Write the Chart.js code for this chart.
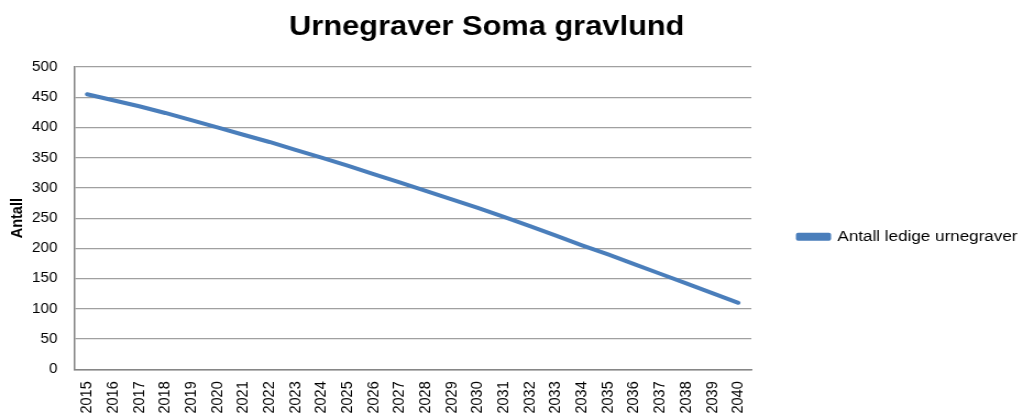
<!DOCTYPE html>
<html>
<head>
<meta charset="utf-8">
<script src="https://cdn.jsdelivr.net/npm/chart.js@4.4.1/dist/chart.umd.min.js"></script>
<style>
html,body{margin:0;padding:0;background:#fff;overflow:hidden;width:1018px;height:414px;}
#wrap{position:absolute;left:-55px;top:0;width:985px;height:414px;transform:scaleX(1.1);transform-origin:0 0;}
</style>
</head>
<body>
<div id="wrap"><canvas id="c"></canvas></div>
<script>
const titleText = 'Urnegraver Soma gravlund';
const yAxisTitle = 'Antall';
const seriesLabel = 'Antall ledige urnegraver';
const years = ['2015','2016','2017','2018','2019','2020','2021','2022','2023','2024','2025','2026','2027',
               '2028','2029','2030','2031','2032','2033','2034','2035','2036','2037','2038','2039','2040'];
const ledigeUrnegraver = [455,445,435,424,412,400,388,376,363,350,337,323,309,
                          295,281,267,252,237,221,205,190,174,158,142,126,110];
const yMin = 0, yMax = 500, yStep = 50;

const FONT = 'Liberation Sans, Arial, sans-serif';

new Chart(document.getElementById('c'), {
  type: 'line',
  data: {
    labels: years,
    datasets: [{
      label: seriesLabel,
      data: ledigeUrnegraver,
      borderColor: '#4a7ebb',
      backgroundColor: '#4a7ebb',
      borderWidth: 4,
      borderCapStyle: 'round',
      borderJoinStyle: 'round',
      pointRadius: 0,
      pointHoverRadius: 0,
      tension: 0,
      fill: false
    }]
  },
  options: {
    responsive: true,
    maintainAspectRatio: false,
    animation: false,
    layout: { padding: { left: 0, right: 0, top: 0, bottom: 0 } },
    plugins: {
      tooltip: { enabled: false },
      title: {
        display: true,
        text: titleText,
        color: '#000',
        font: { family: FONT, size: 28, weight: 'bold' },
        padding: { top: 10.5, bottom: 22.9 }
      },
      legend: {
        display: true,
        position: 'right',
        fullSize: false,
        maxWidth: 320,
        title: { display: true, text: '', padding: { top: 10, bottom: 9 }, font: { family: FONT, size: 15 } },
        labels: {
          color: '#000',
          font: { family: FONT, size: 15.5 },
          boxWidth: 28,
          boxHeight: 4,
          padding: 42.5
        }
      }
    },
    scales: {
      x: {
        type: 'category',
        offset: true,
        grid: { display: false, drawTicks: false },
        border: { display: true, color: '#868686', width: 1.5 },
        ticks: {
          color: '#000',
          font: { family: FONT, size: 14.5 },
          minRotation: 90,
          maxRotation: 90,
          autoSkip: false,
          padding: 12
        },
        afterFit: (s) => { s.height = 44.7; }
      },
      y: {
        min: yMin,
        max: yMax,
        grid: { color: '#a0a0a0', lineWidth: 1.3, drawTicks: false },
        border: { display: true, color: '#868686', width: 1.5 },
        ticks: {
          stepSize: yStep,
          color: '#000',
          font: { family: FONT, size: 14 },
          padding: 15
        },
        title: {
          display: true,
          text: yAxisTitle,
          color: '#000',
          font: { family: FONT, size: 14.5, weight: 'bold' },
          padding: { top: 57, bottom: 0 }
        },
        afterFit: (s) => { s.width = 117.3; }
      }
    }
  }
});
</script>
</body>
</html>
